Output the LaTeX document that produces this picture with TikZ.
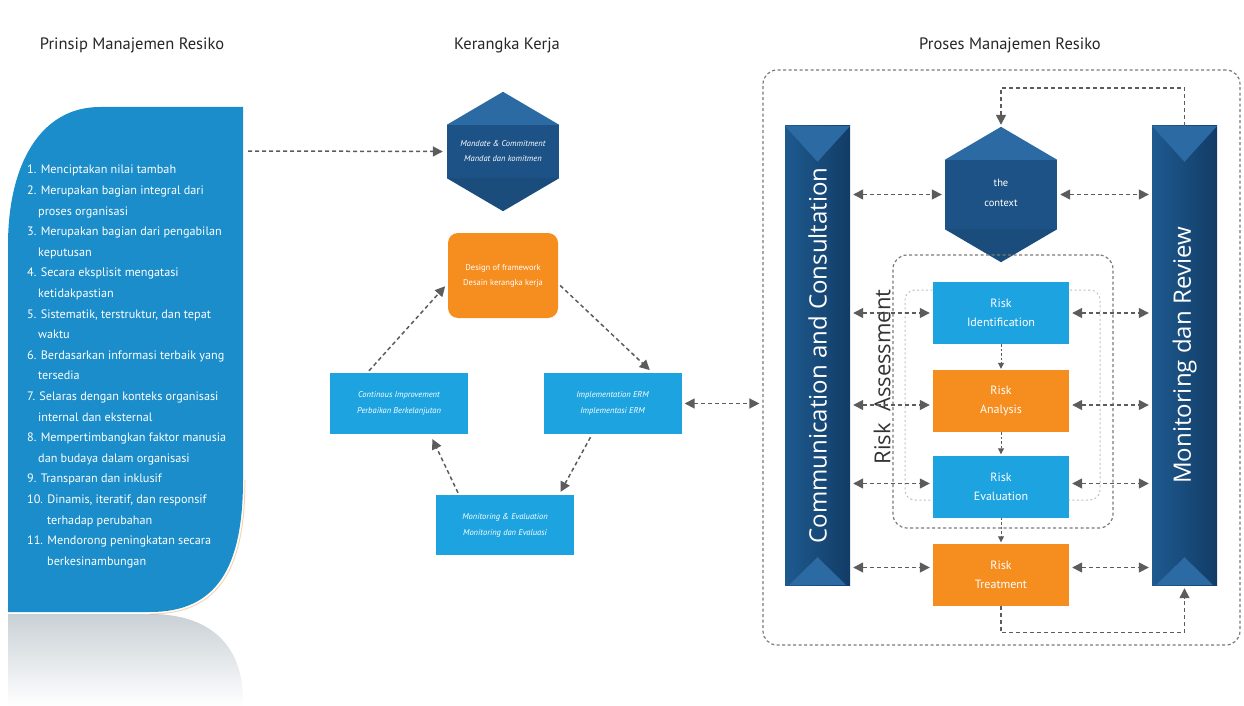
\documentclass[tikz,border=0pt]{standalone}
\usepackage{fontspec}
\setmainfont{PT Sans}
\newfontfamily\osans{Open Sans}
\usetikzlibrary{arrows.meta,shapes.geometric,calc}
\definecolor{panelblue}{HTML}{1A8DCA}
\definecolor{darkblue}{HTML}{1C5286}
\definecolor{darkblueB}{HTML}{123C66}
\definecolor{darkblueL}{HTML}{1E5A8F}
\definecolor{midblue}{HTML}{2C6AA3}
\definecolor{capblue}{HTML}{1A4C7C}
\definecolor{lightblue}{HTML}{1DA3E0}
\definecolor{orangebox}{HTML}{F68D1F}
\definecolor{arrowgray}{HTML}{5C5C5C}
\definecolor{boxgray}{HTML}{7A7A7A}
\definecolor{reflgray}{HTML}{C9D1D6}
\begin{document}
\begin{tikzpicture}[x=1pt,y=-1pt,
  every node/.style={inner sep=0pt},
  titletext/.style={font=\fontsize{16.5}{19}\selectfont, text=black!85},
  listtext/.style={font=\fontsize{12.2}{20.6}\selectfont, text=white, align=left},
  kbox/.style={rectangle, text=white, align=center, minimum width=138pt, minimum height=61pt, font=\fontsize{8.5}{16}\selectfont\itshape},
  rbox/.style={rectangle, minimum width=136pt, minimum height=62pt, text=white, align=center, font=\fontsize{12}{19}\selectfont},
  hexnode/.style={rectangle, draw=none},
  bar/.style={rectangle, minimum width=65pt, minimum height=459pt, left color=darkblueL, right color=darkblueB},
  bartext/.style={text=white, font=\osans\fontsize{24}{28}\selectfont},
  tip/.tip={Triangle[length=10pt,width=10pt]},
  flow/.style={draw=arrowgray, line width=1.5pt, dash pattern=on 4pt off 3pt, -tip},
  bflow/.style={draw=arrowgray, line width=1.5pt, dash pattern=on 4pt off 3pt, tip-tip},
  sflow/.style={draw=arrowgray, line width=1pt, dash pattern=on 2.5pt off 2pt, -{Triangle[length=6pt,width=6pt]}},
  frame/.style={rectangle, draw=boxgray, line width=1.2pt, dash pattern=on 3pt off 2.5pt, rounded corners=14pt},
  lframe/.style={rectangle, draw=black!25, line width=1pt, dash pattern=on 2pt off 2.5pt, rounded corners=10pt}
]
\useasboundingbox (0,0) rectangle (1244,706);

% ---------- titles ----------
\node[titletext] (t1) at (132,45) {Prinsip Manajemen Resiko};
\node[titletext] (t2) at (507,45) {Kerangka Kerja};
\node[titletext] (t3) at (1010,45) {Proses Manajemen Resiko};

% ---------- left panel ----------
\shade[top color=reflgray, bottom color=white]
  (8,614) -- (150,614) .. controls (215,614) and (243,650) .. (243,700) -- (243,706) -- (8,706) -- cycle;
\fill[panelblue] (8,245) .. controls (8,165) and (40,107) .. (100,107) -- (243,107) -- (243,480)
  .. controls (243,570) and (215,612) .. (150,612) -- (8,612) -- cycle;
\draw[orangebox!60!brown, opacity=0.35, line width=1pt] (245,480) .. controls (245,572) and (217,614) .. (150,614);
\node[listtext, anchor=north west] (principles) at (27,165) {%
1. Menciptakan nilai tambah\\
2. Merupakan bagian  integral dari\\
\hspace*{11pt}proses organisasi\\
3. Merupakan bagian dari pengabilan\\
\hspace*{11pt}keputusan\\
4. Secara eksplisit mengatasi\\
\hspace*{11pt}ketidakpastian\\
5. Sistematik, terstruktur, dan tepat\\
\hspace*{11pt}waktu\\
6. Berdasarkan informasi terbaik yang\\
\hspace*{11pt}tersedia\\
7. Selaras dengan konteks organisasi\\
\hspace*{11pt}internal dan eksternal\\
8. Mempertimbangkan faktor manusia\\
\hspace*{11pt}dan budaya dalam organisasi\\
9. Transparan dan inklusif\\
10. Dinamis, iteratif, dan responsif\\
\hspace*{20pt}terhadap perubahan\\
11. Mendorong peningkatan secara\\
\hspace*{20pt}berkesinambungan};
\coordinate (lpout) at (248,151);

% ---------- Kerangka Kerja ----------
\node[hexnode, minimum width=112pt, minimum height=119pt] (mandate) at (503,151.5) {};
\fill[darkblue] ($(mandate.north west)+(0,33)$) rectangle ($(mandate.south east)+(0,-33)$);
\fill[midblue] (mandate.north) -- ($(mandate.north west)+(0,33)$) -- ($(mandate.north east)+(0,33)$) -- cycle;
\fill[capblue] ($(mandate.south west)+(0,-33)$) -- (mandate.south) -- ($(mandate.south east)+(0,-33)$) -- cycle;
\node[text=white, align=center, font=\fontsize{8.5}{15}\selectfont\itshape] (mandatelbl) at (mandate.center) {Mandate \& Commitment\\Mandat dan komitmen};

\node[rectangle, fill=orangebox, rounded corners=10pt, minimum width=110pt, minimum height=85pt,
      text=white, align=center, font=\fontsize{8.5}{15}\selectfont] (design) at (503,275.5) {Design of framework\\Desain kerangka kerja};
\node[kbox, fill=lightblue] (cont) at (399,403.5) {Continous Improvement\\Perbaikan Berkelanjutan};
\node[kbox, fill=lightblue] (impl) at (612.5,403.5) {Implementation ERM\\Implementasi ERM};
\node[kbox, fill=lightblue, minimum height=60pt] (moneval) at (505,525) {Monitoring \& Evaluation\\Monitoring dan Evaluasi};

\draw[flow, shorten >=4pt] (lpout) -- (mandate.west);
\draw[flow, shorten >=1pt] ($(design.east)+(2,10)$) -- ($(impl.north)+(38,-2)$);
\draw[flow, shorten >=1pt] ($(impl.south)+(-22,3)$) -- ($(moneval.north)+(55,-2)$);
\draw[flow, shorten >=1pt] ($(moneval.north)+(-47,-2)$) -- ($(cont.south)+(33,4)$);
\draw[flow, shorten >=1pt] ($(cont.north)+(-30,-2)$) -- ($(design.west)+(-2,10)$);

% ---------- Proses Manajemen Resiko ----------
\node[frame, minimum width=477pt, minimum height=575pt] (outer) at (1001.5,357.5) {};
\draw[bflow, shorten <=3pt, shorten >=3pt] (impl.east) -- (impl.east -| outer.west);

\node[bar] (cc) at (817.5,355.5) {};
\fill[midblue] (cc.north west) -- (cc.north east) -- ($(cc.north)+(0,36)$) -- cycle;
\fill[midblue] ($(cc.south west)+(4,0)$) -- ($(cc.south east)+(-4,0)$) -- ($(cc.south)+(0,-28)$) -- cycle;
\node[bartext, rotate=90] (cclbl) at (cc.center) {Communication and Consultation};

\node[bar] (mr) at (1184.5,355.5) {};
\fill[midblue] (mr.north west) -- (mr.north east) -- ($(mr.north)+(0,36)$) -- cycle;
\fill[midblue] ($(mr.south west)+(4,0)$) -- ($(mr.south east)+(-4,0)$) -- ($(mr.south)+(0,-28)$) -- cycle;
\node[bartext, rotate=90] (mrlbl) at (mr.center) {Monitoring dan Review};

\node[hexnode, minimum width=112pt, minimum height=135pt] (context) at (1001,194.5) {};
\fill[darkblue] ($(context.north west)+(0,33)$) rectangle ($(context.south east)+(0,-33)$);
\fill[midblue] (context.north) -- ($(context.north west)+(0,33)$) -- ($(context.north east)+(0,33)$) -- cycle;
\fill[capblue] ($(context.south west)+(0,-33)$) -- (context.south) -- ($(context.south east)+(0,-33)$) -- cycle;
\node[text=white, align=center, font=\fontsize{10.5}{20}\selectfont] (contextlbl) at ($(context.center)+(0,-2)$) {the\\context};

\node[lframe, minimum width=195pt, minimum height=210pt] (rainner) at (1002.5,395) {};
\node[frame, minimum width=220pt, minimum height=273pt] (ra) at (1003,391.5) {};
\node[rotate=90, text=black!80, font=\osans\fontsize{22}{26}\selectfont] (ralbl) at (882,377) {Risk\ \ Assessment};

\node[rbox, fill=lightblue] (ident) at (1001,313) {Risk\\Identification};
\node[rbox, fill=orangebox] (anal) at (1001,401) {Risk\\Analysis};
\node[rbox, fill=lightblue] (evalb) at (1001,486.5) {Risk\\Evaluation};
\node[rbox, fill=orangebox] (treat) at (1001,574.5) {Risk\\Treatment};

\draw[sflow, shorten >=1pt] (ident.south) -- (anal.north);
\draw[sflow, shorten >=1pt] (anal.south) -- (evalb.north);
\draw[sflow, shorten >=1pt] (evalb.south) -- (treat.north);

\draw[bflow, shorten <=3pt, shorten >=3pt] (context.west -| cc.east) -- (context.west);
\draw[bflow, shorten <=3pt, shorten >=3pt] (context.east) -- (context.east -| mr.west);
\foreach \b/\dy in {ident/0, anal/4, evalb/-3, treat/-7}{
  \draw[bflow, shorten <=3pt, shorten >=3pt] ($(\b.west -| cc.east)+(0,\dy)$) -- ($(\b.west)+(0,\dy)$);
  \draw[bflow, shorten <=3pt, shorten >=3pt] ($(\b.east)+(0,\dy)$) -- ($(\b.east -| mr.west)+(0,\dy)$);
}
\draw[flow, shorten >=2pt] (mr.north) -- ++(0,-38) -| (context.north);
\draw[flow, shorten >=3pt] (treat.south) -- ++(0,27) -| (mr.south);
\end{tikzpicture}
\end{document}
